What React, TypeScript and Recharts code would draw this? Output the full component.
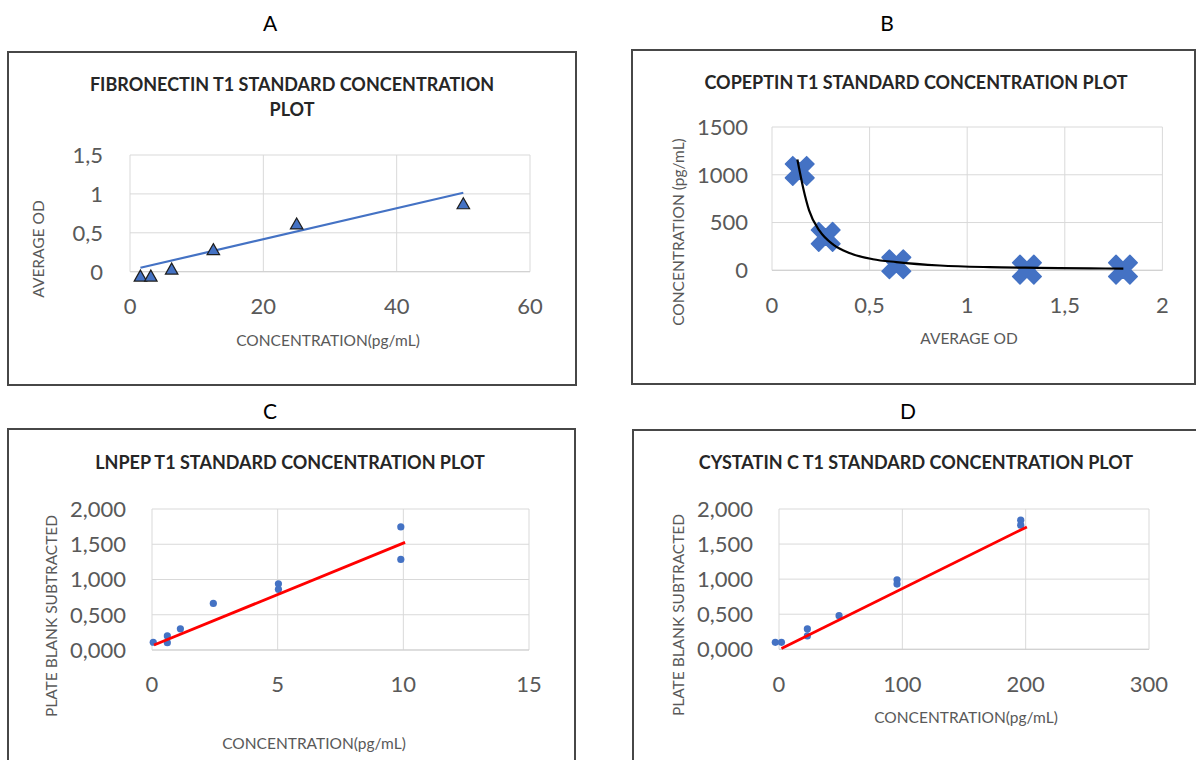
import React from 'react';
import { ScatterChart, Scatter, XAxis, YAxis, CartesianGrid } from 'recharts';

const FONT = 'Lato, "Open Sans", sans-serif';
const BLUE = '#4472C4';

// ---- Panel A: Fibronectin
const fibConc = [1.5625, 3.125, 6.25, 12.5, 25, 50];
const fibOD = [-0.05, -0.05, 0.04, 0.29, 0.62, 0.88];
const fibTrendX = [1.5625, 50];
const fibTrendY = [0.05, 1.015];
const fibXTicks = [0, 20, 40, 60];
const fibYTicks = [0, 0.5, 1, 1.5];

// ---- Panel B: Copeptin
const copOD = [0.142, 0.275, 0.637, 1.306, 1.798];
const copConc = [1040, 350, 63, 7, 7];
const copCurveX = [0.13, 0.16, 0.19, 0.244, 0.314, 0.4, 0.517, 0.637, 0.86, 1.115, 1.37, 1.63, 1.8];
const copCurveY = [1160, 860, 628, 412, 268, 178, 116, 86, 50, 33, 26, 20, 17];
const copXTicks = [0, 0.5, 1, 1.5, 2];
const copYTicks = [0, 500, 1000, 1500];

// ---- Panel C: LNPEP
const lnConc = [0.05, 0.61, 0.61, 1.13, 2.44, 5.03, 5.03, 9.9, 9.9];
const lnVal = [0.11, 0.2, 0.104, 0.3, 0.66, 0.94, 0.86, 1.746, 1.285];
const lnTrendX = [0.08, 10.07];
const lnTrendY = [0.07, 1.526];
const lnXTicks = [0, 5, 10, 15];
const plateYTicks = [0, 0.5, 1, 1.5, 2];

// ---- Panel D: Cystatin C
const cysConc = [-3, 2, 23, 23, 48.7, 95.7, 95.7, 196, 196];
const cysVal = [0.1, 0.1, 0.29, 0.19, 0.48, 0.99, 0.93, 1.84, 1.77];
const cysTrendX = [2, 201];
const cysTrendY = [0.01, 1.745];
const cysXTicks = [0, 100, 200, 300];

const zip = (xs: number[], ys: number[]) => xs.map((x, i) => ({ x, y: ys[i] }));

const commaFmt = (v: number) => String(v).replace('.', ',');
const comma3Fmt = (v: number) => v.toFixed(3).replace('.', ',');

const TriangleShape = (p: any) => {
  const { cx, cy } = p;
  const s = 12.5;
  const h = 11;
  return (
    <path
      d={`M${cx},${cy - h / 2}L${cx + s / 2},${cy + h / 2}L${cx - s / 2},${cy + h / 2}Z`}
      fill={BLUE}
      stroke="#1e1e1e"
      strokeWidth={1.2}
    />
  );
};

const XShape = (p: any) => {
  const { cx, cy } = p;
  const L = 15;
  const w = 5.2;
  return (
    <g transform={`translate(${cx},${cy}) rotate(45)`}>
      <path
        d={`M${-w},${-L}H${w}V${-w}H${L}V${w}H${w}V${L}H${-w}V${w}H${-L}V${-w}H${-w}Z`}
        fill={BLUE}
        strokeLinejoin="round"
        stroke={BLUE}
        strokeWidth={1.5}
      />
    </g>
  );
};

const DotShape = (p: any) => <circle cx={p.cx} cy={p.cy} r={3.6} fill={BLUE} />;
const NoShape = () => <g />;

type Box = { l: number; t: number; r: number; b: number };

function Plot(props: {
  plot: Box;
  xDomain: [number, number];
  xTicks: number[];
  yDomain: [number, number];
  yTicks: number[];
  xFmt: (v: number) => string;
  yFmt: (v: number) => string;
  yGap: number;
  xGap: number;
  children: React.ReactNode;
}) {
  const { plot } = props;
  const padL = 110, padT = 24, padR = 30, padB = 60;
  const w = plot.r - plot.l + padL + padR;
  const h = plot.b - plot.t + padT + padB;
  const tick = { fontSize: 22, fill: '#595959', fontFamily: FONT };
  return (
    <div style={{ position: 'absolute', left: plot.l - padL, top: plot.t - padT }}>
      <ScatterChart width={w} height={h} margin={{ top: padT, right: padR, left: 0, bottom: 0 }}>
        <CartesianGrid stroke="#d9d9d9" strokeWidth={1} />
        <XAxis
          type="number"
          dataKey="x"
          domain={props.xDomain}
          ticks={props.xTicks}
          allowDataOverflow
          interval={0}
          height={padB}
          tickLine={false}
          tickSize={0}
          tickMargin={props.xGap}
          axisLine={{ stroke: '#cfcfcf' }}
          tick={tick}
          tickFormatter={props.xFmt}
        />
        <YAxis
          type="number"
          dataKey="y"
          domain={props.yDomain}
          ticks={props.yTicks}
          allowDataOverflow
          interval={0}
          width={padL}
          tickLine={false}
          tickSize={0}
          tickMargin={props.yGap}
          axisLine={false}
          tick={tick}
          tickFormatter={props.yFmt}
        />
        {props.children}
      </ScatterChart>
    </div>
  );
}

function Txt(p: {
  x: number;
  y: number;
  size: number;
  bold?: boolean;
  color?: string;
  rotate?: boolean;
  children: React.ReactNode;
}) {
  return (
    <div
      style={{
        position: 'absolute',
        left: p.x,
        top: p.y,
        transform: `translate(-50%, -50%)${p.rotate ? ' rotate(-90deg)' : ''}`,
        fontFamily: FONT,
        fontSize: p.size,
        fontWeight: p.bold ? 700 : 400,
        color: p.color || '#000',
        whiteSpace: 'nowrap',
        lineHeight: 1,
      }}
    >
      {p.children}
    </div>
  );
}

function Frame(p: { l: number; t: number; r: number; b: number }) {
  return (
    <div
      style={{
        position: 'absolute',
        left: p.l - 1,
        top: p.t - 1,
        width: p.r - p.l,
        height: p.b - p.t,
        border: '2px solid #474747',
        background: '#fff',
      }}
    />
  );
}

export default function App() {
  const titleColor = '#262626';
  const axisColor = '#595959';
  const TS = 18;
  const AS = 15.5;
  return (
    <div
      style={{
        position: 'absolute',
        left: 0,
        top: 0,
        width: 1196,
        height: 760,
        overflow: 'hidden',
        background: '#fff',
      }}
    >
      <style>{'.recharts-scatter{clip-path:none !important;}'}</style>

      <Txt x={270} y={22} size={21}>A</Txt>
      <Txt x={887} y={22} size={21}>B</Txt>
      <Txt x={270} y={410} size={21}>C</Txt>
      <Txt x={908} y={410} size={21}>D</Txt>

      <Frame l={8} t={52} r={574} b={383} />
      <Frame l={632} t={50} r={1193} b={382} />
      <Frame l={8} t={429} r={573} b={790} />
      <Frame l={633} t={430} r={1230} b={790} />

      {/* Panel A */}
      <Txt x={292} y={84} size={TS} bold color={titleColor}>FIBRONECTIN T1 STANDARD CONCENTRATION</Txt>
      <Txt x={292} y={109} size={TS} bold color={titleColor}>PLOT</Txt>
      <Txt x={39} y={249} size={AS} rotate color={axisColor}>AVERAGE OD</Txt>
      <Txt x={328} y={341} size={AS} color={axisColor}>CONCENTRATION(pg/mL)</Txt>
      <Plot
        plot={{ l: 130, t: 155, r: 530, b: 271.7 }}
        xDomain={[0, 60]}
        xTicks={fibXTicks}
        yDomain={[0, 1.5]}
        yTicks={fibYTicks}
        xFmt={commaFmt}
        yFmt={commaFmt}
        yGap={27}
        xGap={27}
      >
        <Scatter
          data={zip(fibTrendX, fibTrendY)}
          fill={BLUE}
          line={{ stroke: BLUE, strokeWidth: 2.2 }}
          shape={NoShape}
          isAnimationActive={false}
        />
        <Scatter data={zip(fibConc, fibOD)} fill={BLUE} shape={TriangleShape} isAnimationActive={false} />
      </Plot>

      {/* Panel B */}
      <Txt x={916} y={82} size={TS} bold color={titleColor}>COPEPTIN T1 STANDARD CONCENTRATION PLOT</Txt>
      <Txt x={679} y={232} size={AS} rotate color={axisColor}>CONCENTRATION (pg/mL)</Txt>
      <Txt x={969} y={339} size={AS} color={axisColor}>AVERAGE OD</Txt>
      <Plot
        plot={{ l: 772.3, t: 126.7, r: 1162.7, b: 270 }}
        xDomain={[0, 2]}
        xTicks={copXTicks}
        yDomain={[0, 1500]}
        yTicks={copYTicks}
        xFmt={commaFmt}
        yFmt={(v) => String(v)}
        yGap={24}
        xGap={27}
      >
        <Scatter data={zip(copOD, copConc)} fill={BLUE} shape={XShape} isAnimationActive={false} />
        <Scatter
          data={zip(copCurveX, copCurveY)}
          fill="#000"
          line={{ stroke: '#000', strokeWidth: 2.2 }}
          lineJointType="monotoneX"
          shape={NoShape}
          isAnimationActive={false}
        />
      </Plot>

      {/* Panel C */}
      <Txt x={290} y={462} size={TS} bold color={titleColor}>LNPEP T1 STANDARD CONCENTRATION PLOT</Txt>
      <Txt x={52} y={616} size={AS} rotate color={axisColor}>PLATE BLANK SUBTRACTED</Txt>
      <Txt x={314} y={744} size={AS} color={axisColor}>CONCENTRATION(pg/mL)</Txt>
      <Plot
        plot={{ l: 152.3, t: 509, r: 529.3, b: 650 }}
        xDomain={[0, 15]}
        xTicks={lnXTicks}
        yDomain={[0, 2]}
        yTicks={plateYTicks}
        xFmt={commaFmt}
        yFmt={comma3Fmt}
        yGap={26}
        xGap={26}
      >
        <Scatter data={zip(lnConc, lnVal)} fill={BLUE} shape={DotShape} isAnimationActive={false} />
        <Scatter
          data={zip(lnTrendX, lnTrendY)}
          fill="#FF0000"
          line={{ stroke: '#FF0000', strokeWidth: 2.8 }}
          shape={NoShape}
          isAnimationActive={false}
        />
      </Plot>

      {/* Panel D */}
      <Txt x={916} y={462} size={TS} bold color={titleColor}>CYSTATIN C T1 STANDARD CONCENTRATION PLOT</Txt>
      <Txt x={679} y={615} size={AS} rotate color={axisColor}>PLATE BLANK SUBTRACTED</Txt>
      <Txt x={966} y={718} size={AS} color={axisColor}>CONCENTRATION(pg/mL)</Txt>
      <Plot
        plot={{ l: 779.3, t: 509, r: 1149.3, b: 649.3 }}
        xDomain={[0, 300]}
        xTicks={cysXTicks}
        yDomain={[0, 2]}
        yTicks={plateYTicks}
        xFmt={commaFmt}
        yFmt={comma3Fmt}
        yGap={26}
        xGap={27}
      >
        <Scatter data={zip(cysConc, cysVal)} fill={BLUE} shape={DotShape} isAnimationActive={false} />
        <Scatter
          data={zip(cysTrendX, cysTrendY)}
          fill="#FF0000"
          line={{ stroke: '#FF0000', strokeWidth: 2.8 }}
          shape={NoShape}
          isAnimationActive={false}
        />
      </Plot>
    </div>
  );
}
